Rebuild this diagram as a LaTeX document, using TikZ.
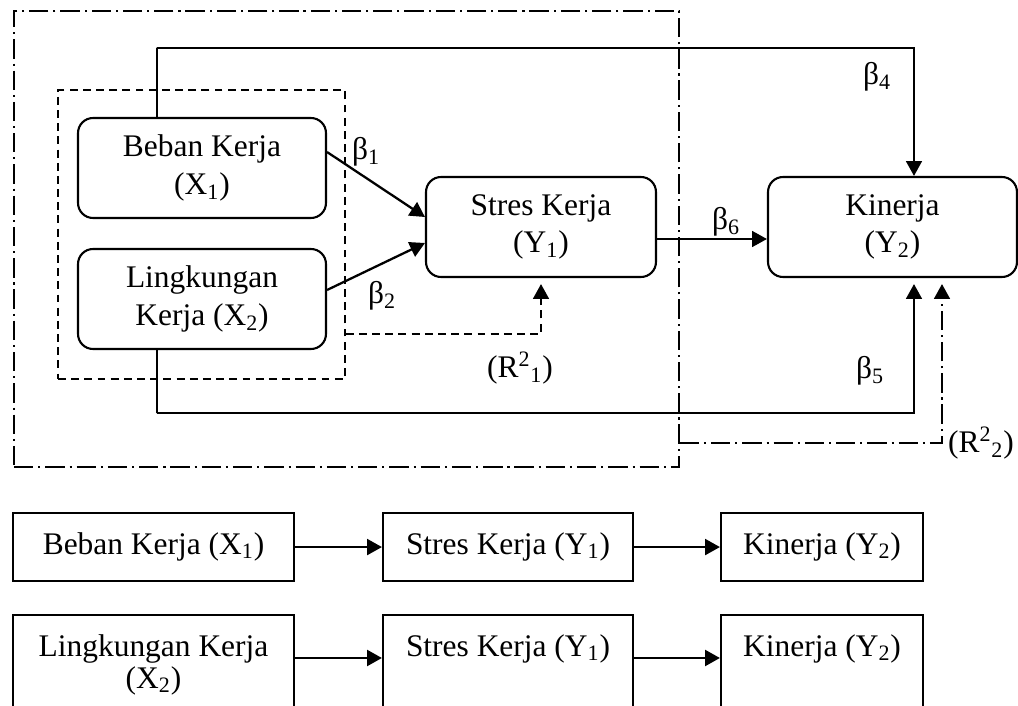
\documentclass[tikz,border=0pt]{standalone}
\usepackage{fontspec}
\setmainfont{Liberation Serif}
\usetikzlibrary{arrows.meta,positioning}

\tikzset{
  rbox/.style={draw, line width=1.2pt, rounded corners=0.3cm, align=center,
    minimum height=2cm, inner sep=0pt, font=\fontsize{17.9}{21.5}\selectfont},
  sbox/.style={draw, line width=1.2pt, align=center, inner xsep=0pt, inner ysep=0pt,
    text height=0.82cm, text depth=0.54cm, font=\fontsize{17.9}{18.2}\selectfont},
  lbl/.style={inner sep=0pt, font=\fontsize{17.9}{21.5}\selectfont},
  arr/.style={line width=1.3pt, -{Triangle[length=8.5pt, width=9pt]}},
  rowarr/.style={line width=1.6pt, -{Triangle[length=8.5pt, width=9pt]}},
  dashln/.style={dash pattern=on 4.5pt off 3pt},
  dotln/.style={dash pattern=on 11pt off 2.8pt on 1.2pt off 2.8pt},
}

\begin{document}
\begin{tikzpicture}[x=0.02cm, y=-0.02cm]
  \path[use as bounding box, clip] (0,0) rectangle (1018,706);

  % group boxes
  \node[draw, dotln, line width=0.9pt, minimum width=13.3cm, minimum height=9.12cm, inner sep=0pt] (allgrp) at (346.5,239) {};
  \node[draw, dashln, line width=0.9pt, minimum width=5.74cm, minimum height=5.78cm, inner sep=0pt] (xgrp) at (201.5,234.5) {};

  % variables
  \node[rbox, minimum width=4.96cm] (bk) at (202,168) {Beban Kerja\\(X\textsubscript{1})};
  \node[rbox, minimum width=4.96cm] (lk) at (202,299) {Lingkungan\\Kerja (X\textsubscript{2})};
  \node[rbox, minimum width=4.6cm] (sk) at (541,227) {Stres Kerja\\(Y\textsubscript{1})};
  \node[rbox, minimum width=4.98cm] (kin) at (892.5,227) {Kinerja\\(Y\textsubscript{2})};

  \coordinate (r1) at (0,334);
  \coordinate (r2) at (0,443);

  % paths
  \draw[arr] ([yshift=0.32cm]bk.east) -- ([yshift=0.2cm]sk.west);
  \draw[arr] ([yshift=0.18cm]lk.east) -- ([yshift=-0.32cm]sk.west);
  \draw[arr] ([yshift=-0.24cm]sk.east) -- ([yshift=-0.24cm]kin.west);
  \draw[arr] ([xshift=-0.9cm]bk.north) |- (157,48) -| ([xshift=0.43cm]kin.north);
  \draw[arr] ([xshift=-0.9cm]lk.south) |- (157,413) -| ([xshift=0.43cm,yshift=-0.12cm]kin.south);
  \draw[arr, dashln] (xgrp.east |- r1) -| ([yshift=-0.12cm]sk.south);
  \draw[arr, dotln] (allgrp.east |- r2) -| ([xshift=0.99cm,yshift=-0.12cm]kin.south);

  % coefficients
  \node[lbl] (b1) at (366,152) {β\textsubscript{1}};
  \node[lbl] (b2) at (382,296) {β\textsubscript{2}};
  \node[lbl] (b4) at (877,77) {β\textsubscript{4}};
  \node[lbl] (b5) at (870,371) {β\textsubscript{5}};
  \node[lbl] (b6) at (726,222) {β\textsubscript{6}};
  \node[lbl] (rsq1) at (520,368) {(R\textsuperscript{2}\textsubscript{1})};
  \node[lbl] (rsq2) at (981,443) {(R\textsuperscript{2}\textsubscript{2})};

  % single paths
  \node[sbox, anchor=north, minimum width=5.62cm] (p1) at (153.5,512) {Beban Kerja (X\textsubscript{1})};
  \node[sbox, anchor=north, minimum width=5cm] (p2) at (508,512) {Stres Kerja (Y\textsubscript{1})};
  \node[sbox, anchor=north, minimum width=4.04cm] (p3) at (822,512) {Kinerja (Y\textsubscript{2})};
  \draw[rowarr] (p1) -- (p2);
  \draw[rowarr] (p2) -- (p3);

  \node[sbox, anchor=north, minimum width=5.62cm, text height=1.46cm, text depth=2cm] (q1) at (153.5,614) {Lingkungan Kerja\\(X\textsubscript{2})};
  \node[sbox, anchor=north, minimum width=5cm, text depth=2cm] (q2) at (508,614) {Stres Kerja (Y\textsubscript{1})};
  \node[sbox, anchor=north, minimum width=4.04cm, text depth=2cm] (q3) at (822,614) {Kinerja (Y\textsubscript{2})};
  \draw[rowarr] ([yshift=-0.88cm]q1.north east) -- ([yshift=-0.88cm]q2.north west);
  \draw[rowarr] ([yshift=-0.88cm]q2.north east) -- ([yshift=-0.88cm]q3.north west);
\end{tikzpicture}
\end{document}
